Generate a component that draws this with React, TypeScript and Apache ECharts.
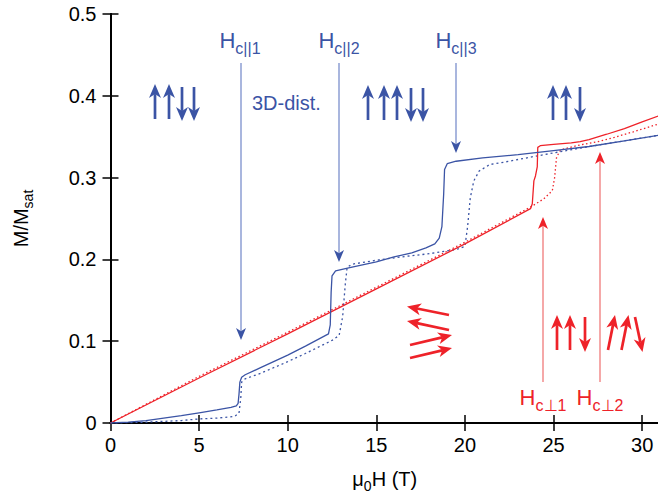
import React, { useEffect, useRef } from "react";
import * as echarts from "echarts";

// ---- data (x: μ0H in T, y: M/Msat) ----
const blueSolid: [number, number][] = [
  [0, 0], [1, 0.001], [2, 0.003], [3, 0.006], [4, 0.009], [5, 0.0125], [6, 0.016], [6.8, 0.019],
  [7.1, 0.021], [7.2, 0.024], [7.25, 0.035], [7.3, 0.05], [7.4, 0.056], [7.6, 0.059], [8.5, 0.068],
  [10, 0.083], [11, 0.094], [12.3, 0.109], [12.4, 0.12], [12.45, 0.16], [12.5, 0.18], [12.7, 0.186],
  [13.5, 0.19], [15, 0.197], [16, 0.203], [17, 0.208], [17.8, 0.214], [18.3, 0.219], [18.55, 0.226],
  [18.7, 0.24], [18.8, 0.28], [18.85, 0.31], [19.0, 0.317], [19.5, 0.32], [21, 0.324], [23, 0.328],
  [25, 0.333], [27, 0.338], [29, 0.345], [31, 0.352],
];
const blueDotted: [number, number][] = [
  [0, 0], [2, 0.001], [4, 0.003], [5, 0.005], [6, 0.006], [7.0, 0.008], [7.25, 0.012], [7.35, 0.03],
  [7.4, 0.05], [7.6, 0.054], [8.5, 0.061], [10, 0.075], [11, 0.085], [12.5, 0.101], [12.9, 0.107],
  [13.1, 0.13], [13.25, 0.17], [13.35, 0.19], [13.6, 0.194], [15, 0.199], [16.4, 0.203], [18, 0.207],
  [19.5, 0.212], [20.0, 0.216], [20.15, 0.24], [20.3, 0.275], [20.5, 0.296], [20.8, 0.308],
  [21.4, 0.316], [22, 0.318], [23.7, 0.325], [25.2, 0.331], [27, 0.338], [29, 0.345], [31, 0.352],
];
const redSolid: [number, number][] = [
  [0, 0], [5, 0.055], [10, 0.109], [15, 0.164], [20, 0.219], [23.7, 0.262], [23.8, 0.268],
  [23.89, 0.296], [23.98, 0.302], [24.08, 0.313], [24.11, 0.337], [24.25, 0.339], [25, 0.3405],
  [26, 0.3425], [26.5, 0.344], [27, 0.3465], [28, 0.353], [29, 0.36], [30, 0.368], [31, 0.376],
];
const redDotted: [number, number][] = [
  [0, 0], [5, 0.057], [10, 0.111], [15, 0.166], [20, 0.221], [23.7, 0.264], [24.45, 0.274],
  [24.93, 0.284], [25.06, 0.3], [25.17, 0.325], [25.4, 0.334], [26.5, 0.34], [27.5, 0.344],
  [28.4, 0.349], [29.5, 0.356], [31, 0.366],
];
const xTicks = { min: 0, max: 30.95, interval: 5 };
const yTicks = { min: 0, max: 0.5, interval: 0.1 };

const BLUE = "#3b54a5";
const BLUE_LIGHT = "#8c9ed3";
const RED = "#ee2229";
const RED_LIGHT = "#f28b8b";
const FONT = "Liberation Sans, Arial, Helvetica, sans-serif";

function arrow(
  x1: number, y1: number, x2: number, y2: number,
  color: string, shaftColor: string, lw: number, hl: number, hw: number
) {
  const dx = x2 - x1, dy = y2 - y1;
  const L = Math.sqrt(dx * dx + dy * dy);
  const ux = dx / L, uy = dy / L;
  const px = -uy, py = ux;
  const bx = x2 - ux * hl, by = y2 - uy * hl;
  const nx = x2 - ux * hl * 0.72, ny = y2 - uy * hl * 0.72;
  return [
    {
      type: "line",
      shape: { x1, y1, x2: nx, y2: ny },
      style: { stroke: shaftColor, lineWidth: lw },
      silent: true,
    },
    {
      type: "polygon",
      shape: {
        points: [
          [x2, y2],
          [bx + px * hw / 2, by + py * hw / 2],
          [nx, ny],
          [bx - px * hw / 2, by - py * hw / 2],
        ],
      },
      style: { fill: color },
      silent: true,
    },
  ];
}

const subRich = (color: string) => ({
  a: { fontSize: 22, lineHeight: 32, verticalAlign: "middle", fontFamily: FONT, color },
  s: { fontSize: 16, lineHeight: 16, verticalAlign: "bottom", fontFamily: FONT, color },
});

function label(text: string, x: number, y: number, color: string) {
  return {
    type: "text",
    x,
    y,
    silent: true,
    style: {
      text,
      align: "center",
      verticalAlign: "middle",
      rich: subRich(color),
      fill: color,
    },
  };
}

export default function App() {
  const ref = useRef<HTMLDivElement>(null);
  useEffect(() => {
    if (!ref.current) return;
    const chart = echarts.init(ref.current, null, { renderer: "svg" });
    const axisLine = { show: true, lineStyle: { color: "#000", width: 2 } };
    const tick = { show: true, inside: true, length: 8, lineStyle: { color: "#000", width: 1.5 } };
    const graphics: any[] = [];
    const sp = (x1: number, y1: number, x2: number, y2: number, c: string) =>
      graphics.push(...arrow(x1, y1, x2, y2, c, c, 2.7, 14, 12));
    // field-direction arrows
    graphics.push(...arrow(241, 63, 241, 340, BLUE, BLUE_LIGHT, 1.5, 12, 10));
    graphics.push(...arrow(339, 63, 339, 262, BLUE, BLUE_LIGHT, 1.5, 12, 10));
    graphics.push(...arrow(456, 63, 456, 153, BLUE, BLUE_LIGHT, 1.5, 12, 10));
    graphics.push(...arrow(543, 382, 543, 217, RED, RED_LIGHT, 1.5, 12, 10));
    graphics.push(...arrow(600, 382, 600, 152, RED, RED_LIGHT, 1.5, 12, 10));
    // spin configurations (blue)
    sp(155, 119, 155, 84, BLUE); sp(169, 119, 169, 84, BLUE);
    sp(182, 87, 182, 121, BLUE); sp(194, 87, 194, 121, BLUE);
    sp(368, 120, 368, 85, BLUE); sp(384, 120, 384, 85, BLUE); sp(397, 120, 397, 85, BLUE);
    sp(411, 88, 411, 122, BLUE); sp(423, 88, 423, 122, BLUE);
    sp(553, 120, 553, 85, BLUE); sp(566, 120, 566, 85, BLUE); sp(580, 87, 580, 122, BLUE);
    // spin configurations (red)
    sp(449, 315, 407, 306.5, RED); sp(449, 330, 407, 321, RED);
    sp(410, 345, 452, 335, RED); sp(410, 358, 452, 348, RED);
    sp(557, 350, 557, 315, RED); sp(570, 350, 570, 315, RED); sp(585, 317, 585, 352, RED);
    sp(608, 350, 615, 315, RED); sp(621.5, 350, 628.5, 315, RED); sp(635, 317, 642.5, 352, RED);
    // labels
    graphics.push(label("{a|H}{s|c||1}", 240, 40, BLUE));
    graphics.push(label("{a|H}{s|c||2}", 339, 40, BLUE));
    graphics.push(label("{a|H}{s|c||3}", 456, 40, BLUE));
    graphics.push(label("{a|H}{s|c⊥1}", 543, 397, RED));
    graphics.push(label("{a|H}{s|c⊥2}", 600, 397, RED));
    graphics.push({
      type: "text",
      x: 252,
      y: 103,
      silent: true,
      style: { text: "3D-dist.", fill: BLUE, font: `20px ${FONT}`, verticalAlign: "middle", align: "left" },
    });

    const mkLine = (name: string, data: [number, number][], color: string, type: any) => ({
      name,
      type: "line",
      data,
      showSymbol: false,
      symbol: "none",
      lineStyle: { color, width: 1.3, type },
      silent: true,
    });

    const nameRich = {
      a: { fontSize: 20, lineHeight: 28, verticalAlign: "middle", fontFamily: FONT, color: "#000" },
      s: { fontSize: 14, lineHeight: 14, verticalAlign: "bottom", fontFamily: FONT, color: "#000" },
    };

    chart.setOption({
      animation: false,
      grid: { left: 110.5, top: 14, right: -1, bottom: 70, outerBoundsMode: "none", containLabel: false },
      xAxis: [
        {
          type: "value",
          ...xTicks,
          axisLine,
          axisTick: tick,
          splitLine: { show: false },
          axisLabel: { color: "#000", fontSize: 20, fontFamily: FONT, margin: 12, showMaxLabel: false },
          name: "{a|μ}{s|0}{a|H (T)}",
          nameLocation: "middle",
          nameGap: 42,
          nameTextStyle: { rich: nameRich },
        },
        {
          type: "value",
          position: "top",
          ...xTicks,
          axisLine,
          axisTick: tick,
          axisLabel: { show: false },
          splitLine: { show: false },
        },
      ],
      yAxis: [
        {
          type: "value",
          ...yTicks,
          axisLine,
          axisTick: tick,
          splitLine: { show: false },
          axisLabel: {
            color: "#000",
            fontSize: 20,
            fontFamily: FONT,
            margin: 14,
            formatter: (v: number) => (v === 0 ? "0" : v.toFixed(1)),
          },
          name: "{a|M/M}{s|sat}",
          nameLocation: "middle",
          nameGap: 76,
          nameRotate: 90,
          nameTextStyle: { rich: nameRich },
        },
        {
          type: "value",
          position: "right",
          ...yTicks,
          axisLine,
          axisTick: tick,
          axisLabel: { show: false },
          splitLine: { show: false },
        },
      ],
      series: [
        mkLine("red dotted", redDotted, RED, [1.5, 2.5]),
        mkLine("blue dotted", blueDotted, BLUE, [2, 3]),
        mkLine("red solid", redSolid, RED, "solid"),
        mkLine("blue solid", blueSolid, BLUE, "solid"),
      ],
      graphic: graphics,
    });
    return () => chart.dispose();
  }, []);
  return <div ref={ref} style={{ width: 658, height: 493, position: "absolute", left: 0, top: 0 }} />;
}
